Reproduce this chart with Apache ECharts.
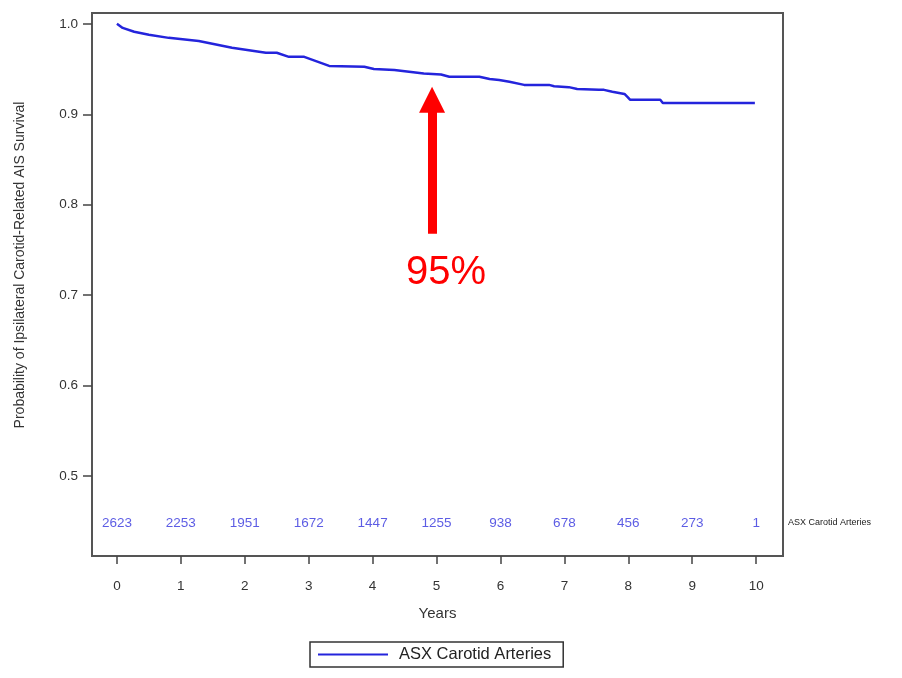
<!DOCTYPE html>
<html><head><meta charset="utf-8">
<script src="https://cdn.jsdelivr.net/npm/echarts@6/dist/echarts.min.js"></script>
<style>html,body{margin:0;padding:0;background:#fff}#c{width:902px;height:678px}</style>
</head><body><div id="c"></div>
<script>
// Kaplan-Meier curve (years, survival probability)
const years = [0.00,0.09,0.27,0.50,0.81,1.28,1.80,2.33,2.50,2.69,2.93,3.32,3.87,4.02,4.34,4.57,4.80,5.07,5.20,5.67,5.83,5.98,6.14,6.37,6.76,6.84,7.07,7.20,7.54,7.62,7.75,7.94,7.99,8.03,8.50,8.54,9.98];
const survival = [1.000,0.9955,0.9912,0.988,0.9845,0.981,0.9735,0.968,0.968,0.9635,0.9635,0.9535,0.9525,0.950,0.949,0.947,0.945,0.944,0.9415,0.9415,0.939,0.938,0.936,0.9325,0.9325,0.931,0.930,0.928,0.927,0.927,0.925,0.9225,0.919,0.916,0.916,0.9125,0.9125];
const atRiskYears = [0,1,2,3,4,5,6,7,8,9,10];
const atRisk = [2623,2253,1951,1672,1447,1255,938,678,456,273,1];
const xTicks = [0,1,2,3,4,5,6,7,8,9,10];
const yTicks = [0.5,0.6,0.7,0.8,0.9,1.0];
const seriesName = 'ASX Carotid Arteries';
const annotation = {x: 4.93, yFrom: 0.768, yTo: 0.916, textX: 5.15, textY: 0.724, text: '95%'};

const chart = echarts.init(document.getElementById('c'));
const font = 'Liberation Sans, Arial, sans-serif';
chart.setOption({
  animation: false,
  textStyle: {fontFamily: font},
  grid: {left: 92, top: 13, right: 119, bottom: 122, show: true, borderColor: '#555', borderWidth: 2, backgroundColor: '#fff'},
  xAxis: {
    type: 'value', min: -0.39, max: 10.42,
    name: 'Years', nameLocation: 'middle', nameGap: 50,
    nameTextStyle: {fontSize: 15, color: '#333', fontFamily: font},
    axisLine: {show: false, onZero: false},
    splitLine: {show: false},
    axisTick: {show: true, inside: false, length: 8, customValues: xTicks, lineStyle: {color: '#444', width: 1.5}},
    axisLabel: {customValues: xTicks, margin: 23, fontSize: 13.5, color: '#333', formatter: v => String(v)}
  },
  yAxis: {
    type: 'value', min: 0.4115, max: 1.012,
    axisLine: {show: false, onZero: false},
    splitLine: {show: false},
    axisTick: {show: true, inside: false, length: 9, customValues: yTicks, lineStyle: {color: '#444', width: 1.5}},
    axisLabel: {customValues: yTicks, margin: 14, fontSize: 13.5, color: '#333', formatter: v => v.toFixed(1)}
  },
  legend: {
    bottom: 11, left: 310, data: [seriesName],
    itemWidth: 70, itemHeight: 14, itemGap: 14,
    icon: 'path://M0,0 L70,0 L70,2 L0,2 Z',
    borderColor: '#333', borderWidth: 1.5, padding: [4, 12, 4, 8],
    textStyle: {fontSize: 16.5, color: '#222', fontFamily: font, padding: [0, 0, 0, 6]}
  },
  graphic: [
    {type: 'text', left: 788, top: 518, style: {text: 'ASX Carotid Arteries', fontSize: 9, fill: '#222', fontFamily: font}},
    {type: 'text', x: 20, y: 265, rotation: Math.PI / 2, style: {text: 'Probability of Ipsilateral Carotid-Related AIS Survival', fontSize: 14, fill: '#333', fontFamily: font, align: 'center', verticalAlign: 'middle'}}
  ],
  series: [
    {
      name: seriesName, type: 'line', showSymbol: false, symbol: 'none',
      data: years.map((t, i) => [t, survival[i]]),
      lineStyle: {color: '#2424dc', width: 2.5}, itemStyle: {color: '#2424dc'},
      markLine: {
        silent: true, symbol: ['none', 'triangle'], symbolSize: [26, 26],
        lineStyle: {color: '#ff0000', width: 9, type: 'solid'},
        label: {show: false},
        data: [[{coord: [annotation.x, annotation.yFrom]}, {coord: [annotation.x, annotation.yTo]}]]
      },
      markPoint: {
        silent: true, symbolSize: 0,
        label: {show: true, formatter: annotation.text, color: '#ff0000', fontSize: 40, fontFamily: font, position: 'inside'},
        data: [{coord: [annotation.textX, annotation.textY]}]
      }
    },
    {
      name: 'atrisk', type: 'scatter', symbolSize: 0, silent: true,
      data: atRiskYears.map((t, i) => [t, 0.448, atRisk[i]]),
      label: {show: true, position: 'inside', formatter: p => String(p.data[2]), color: '#3333dd', fontSize: 13.5, fontFamily: font}
    }
  ]
});
</script></body></html>
